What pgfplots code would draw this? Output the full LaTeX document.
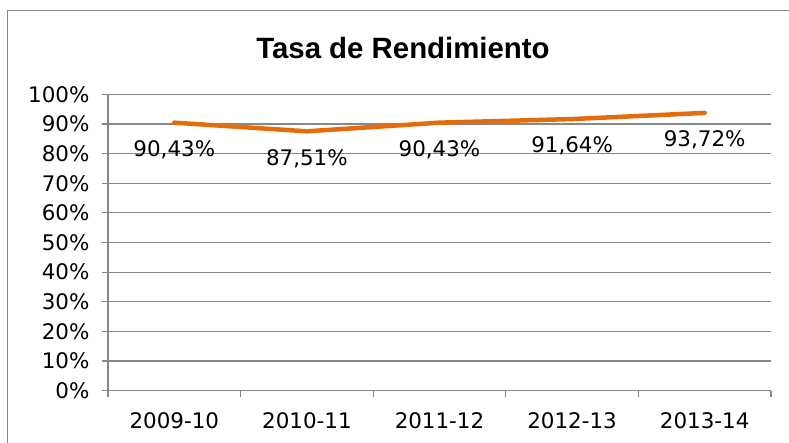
\documentclass[border=0pt]{standalone}
\usepackage{fontspec}
\setmainfont{DejaVu Sans}
\newfontfamily\titlefont{Liberation Sans}
\usepackage{pgfplots}
\pgfplotsset{compat=1.18}
\definecolor{lineorange}{HTML}{E46C0A}
\definecolor{axisgray}{HTML}{878787}
\begin{document}
\begin{tikzpicture}
\useasboundingbox (0bp,0bp) rectangle (789bp,443bp);
\clip (0bp,0bp) rectangle (789bp,443bp);
% chart frame (only left and top edges fall inside the picture)
\draw[axisgray, line width=1.6bp] (7.5bp,-10bp) -- (7.5bp,432.5bp) -- (800bp,432.5bp);
\node[font=\titlefont\bfseries\fontsize{29.5}{33}\selectfont] at (403bp,395.5bp) {Tasa de Rendimiento};
\begin{axis}[
    at={(108bp,52.3bp)}, anchor=south west,
    scale only axis, width=663bp, height=296.4bp,
    xmin=0.5, xmax=5.5, ymin=0, ymax=100,
    axis lines*=left,
    axis line style={axisgray, line width=1.2bp},
    ymajorgrids, grid style={axisgray, line width=1.2bp},
    ytick={0,10,...,100},
    yticklabels={0\%,10\%,20\%,30\%,40\%,50\%,60\%,70\%,80\%,90\%,100\%},
    xtick={1,2,3,4,5},
    xticklabels={2009-10,2010-11,2011-12,2012-13,2013-14},
    minor xtick={0.5,1.5,2.5,3.5,4.5,5.5},
    major x tick style={draw=none},
    tick align=outside,
    major tick length=6bp, minor tick length=6bp,
    tick style={axisgray, line width=1.2bp},
    ticklabel style={font=\fontsize{21.5}{25}\selectfont, text=black},
    xticklabel style={yshift=-12bp},
    yticklabel style={xshift=-9bp},
    clip=false,
]
\addplot[lineorange, line width=4.5bp, line cap=round, line join=round, mark=none,
    nodes near coords, point meta=explicit symbolic,
    every node near coord/.append style={anchor=center, yshift=-27bp,
        font=\fontsize{21.5}{25}\selectfont, text=black}]
    coordinates {(1,90.43)[90,43\%] (2,87.51)[87,51\%] (3,90.43)[90,43\%] (4,91.64)[91,64\%] (5,93.72)[93,72\%]};
\end{axis}
\end{tikzpicture}
\end{document}
